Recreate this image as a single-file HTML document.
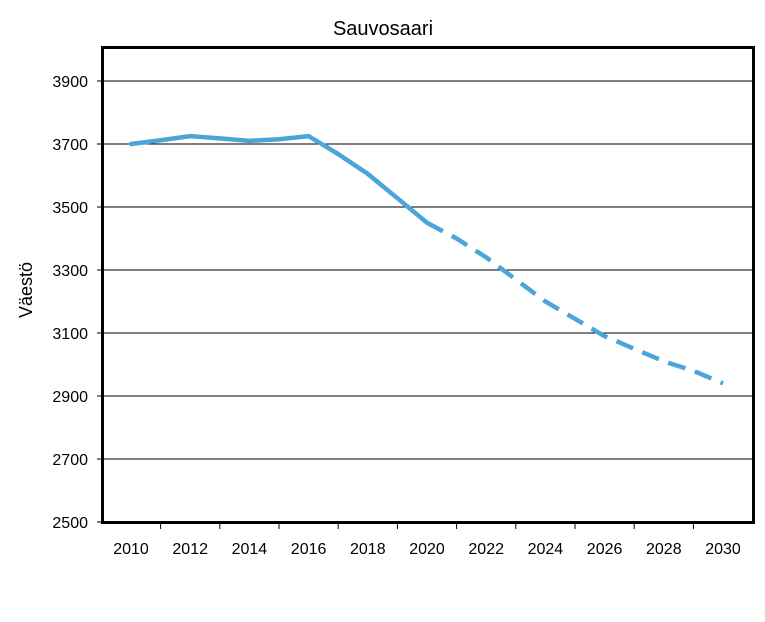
<!DOCTYPE html>
<html><head><meta charset="utf-8"><style>
body{margin:0;background:#fff;}
svg{display:block;font-family:"Liberation Sans",Arial,sans-serif;}
</style></head><body>
<svg id="chart" width="765" height="622">
<rect x="0" y="0" width="765" height="622" fill="#fff"/>
<text x="383" y="35" font-size="20" text-anchor="middle">Sauvosaari</text>
<text transform="translate(32,290) rotate(-90)" font-size="18" text-anchor="middle">Väestö</text>
<g id="grid"></g><g id="axes"></g><g id="series"></g>
<rect x="102.5" y="47.5" width="651" height="475" fill="none" stroke="#000" stroke-width="3"/>
</svg>
<script>
const years=[2010,2011,2012,2013,2014,2015,2016,2017,2018,2019,2020,2021,2022,2023,2024,2025,2026,2027,2028,2029,2030];
const population=[3700,3712,3725,3718,3710,3715,3725,3668,3605,3528,3450,3400,3340,3270,3200,3145,3090,3050,3010,2980,2940];
const forecastStart=2020;
const yTicks=[2500,2700,2900,3100,3300,3500,3700,3900];
const xLabels=[2010,2012,2014,2016,2018,2020,2022,2024,2026,2028,2030];
const NS="http://www.w3.org/2000/svg";
const yMin=2500,yMax=4000,plotTop=49.5,plotBottom=522;
function ys(v){return plotBottom-(v-yMin)/(yMax-yMin)*(plotBottom-plotTop);}
function xs(yr){return 131+(yr-2010)*29.6;}
function mk(t,a,p){const e=document.createElementNS(NS,t);for(const k in a)e.setAttribute(k,a[k]);p.appendChild(e);return e;}
const grid=document.getElementById('grid'),axes=document.getElementById('axes'),series=document.getElementById('series');
yTicks.forEach(v=>{
 const y=ys(v);
 if(v>yMin){const l=mk('line',{x1:103,x2:753,y1:y,y2:y,stroke:'#000','stroke-width':1},grid);
 
 }
 const t=mk('line',{x1:97,x2:103,y1:y,y2:y,stroke:'#000','stroke-width':1},axes);
 
 
 const tx=mk('text',{x:88,y:y+6,'font-size':16,'text-anchor':'end'},axes);tx.textContent=v;
 
 
});
for(let yr=2011;yr<=2029;yr+=2){
 const x=xs(yr);
 const t=mk('line',{x1:x,x2:x,y1:522,y2:529,stroke:'#000','stroke-width':1},axes);
 
 
}
xLabels.forEach(yr=>{
 const tx=mk('text',{x:xs(yr),y:554,'font-size':16,'text-anchor':'middle'},axes);tx.textContent=yr;
 
 
});
let solid=[],dash=[];
years.forEach((yr,i)=>{const p=xs(yr)+','+ys(population[i]);if(yr<=forecastStart)solid.push(p);if(yr>=forecastStart)dash.push(p);});
const s=mk('polyline',{points:solid.join(' '),fill:'none',stroke:'#4BA5D8','stroke-width':4.5,'stroke-linejoin':'round','stroke-linecap':'round'},series);


const d=mk('polyline',{points:dash.join(' '),fill:'none',stroke:'#4BA5D8','stroke-width':4.5,'stroke-dasharray':'18 10'},series);


</script>
</body></html>
